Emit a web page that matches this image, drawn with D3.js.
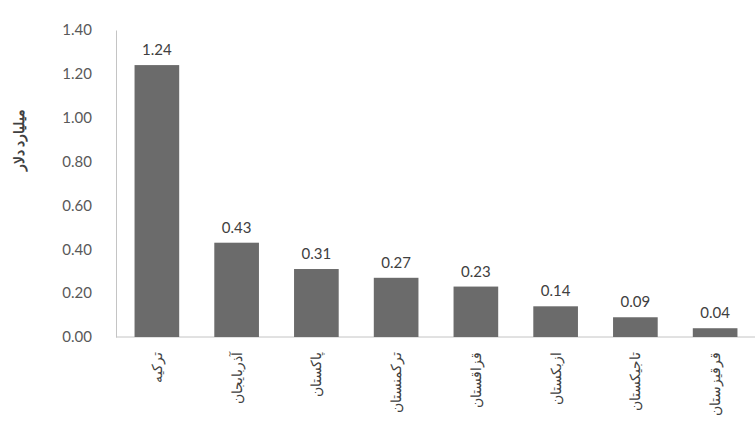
<!DOCTYPE html>
<html>
<head>
  <meta charset="utf-8">
  <title>Bar chart</title>
  <script src="https://d3js.org/d3.v7.min.js"></script>
  <style>
    body { margin: 0; background: #fff; }
    text { font-family: Lato, "Open Sans", sans-serif; }
  </style>
</head>
<body>
  <div id="chart"></div>
  <script>
    // Daten
    var countries = ['ترکیه', 'آذربایجان', 'پاکستان', 'ترکمنستان', 'قزاقستان', 'ازبکستان', 'تاجیکستان', 'قرقیزستان'];
    var values = [1.24, 0.43, 0.31, 0.27, 0.23, 0.14, 0.09, 0.04];
    var yTicks = [0, 0.2, 0.4, 0.6, 0.8, 1.0, 1.2, 1.4];
    var yTitle = 'میلیارد دلار';

    var data = countries.map(function (c, i) { return { name: c, value: values[i] }; });

    var width = 755, height = 446;

    var svg = d3.select('#chart').append('svg')
      .attr('width', width)
      .attr('height', height);

    var x = d3.scaleBand()
      .domain(countries)
      .range([117, 755])
      .paddingInner(0.44)
      .paddingOuter(0.22);

    var y = d3.scaleLinear()
      .domain([0, 1.4])
      .range([337, 30]);

    // y-Achse
    var yAxis = svg.append('g')
      .attr('transform', 'translate(116,0)')
      .call(d3.axisLeft(y).tickValues(yTicks).tickSize(0).tickPadding(24).tickFormat(d3.format('.2f')));
    yAxis.select('.domain').attr('stroke', '#c4c4c4');
    yAxis.selectAll('text').attr('font-size', 15).attr('fill', '#595959');

    // x-Achse (Grundlinie)
    svg.append('line')
      .attr('x1', 116).attr('x2', width)
      .attr('y1', y(0)).attr('y2', y(0))
      .attr('stroke', '#c4c4c4');

    // Balken
    svg.selectAll('.bar')
      .data(data)
      .enter()
      .append('rect')
        .attr('class', 'bar')
        .attr('x', function (d) { return x(d.name); })
        .attr('y', function (d) { return y(d.value); })
        .attr('width', x.bandwidth())
        .attr('height', function (d) { return y(0) - y(d.value); })
        .attr('fill', '#6b6b6b');

    // Werte über den Balken
    svg.selectAll('.val')
      .data(data)
      .enter()
      .append('text')
        .attr('class', 'val')
        .attr('x', function (d) { return x(d.name) + x.bandwidth() / 2; })
        .attr('y', function (d) { return y(d.value) - 10; })
        .attr('text-anchor', 'middle')
        .attr('font-size', 15)
        .attr('fill', '#404040')
        .text(function (d) { return d3.format('.2f')(d.value); });

    // Ländernamen, gedreht
    svg.selectAll('.cat')
      .data(data)
      .enter()
      .append('text')
        .attr('class', 'cat')
        .attr('transform', function (d) {
          return 'translate(' + (x(d.name) + x.bandwidth() / 2 + 5) + ',352) rotate(-90)';
        })
        .attr('text-anchor', 'end')
        .attr('font-size', 14)
        .attr('fill', '#404040')
        .text(function (d) { return d.name; });

    // Achsentitel
    svg.append('text')
      .attr('transform', 'translate(24,140) rotate(-90)')
      .attr('text-anchor', 'middle')
      .attr('font-size', 14)
      .attr('font-weight', 'bold')
      .attr('fill', '#404040')
      .text(yTitle);
  </script>
</body>
</html>
